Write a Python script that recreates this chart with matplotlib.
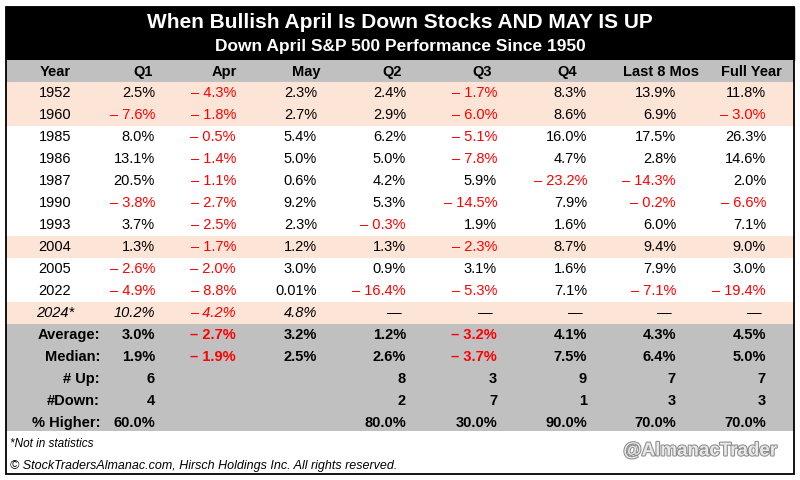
import matplotlib.pyplot as plt
import matplotlib.patheffects as pe
from matplotlib.patches import Rectangle

plt.rcParams['font.family'] = ['Liberation Sans', 'DejaVu Sans']

title = "When Bullish April Is Down Stocks AND MAY IS UP"
subtitle = "Down April S&P 500 Performance Since 1950"
columns = ["Year", "Q1", "Apr", "May", "Q2", "Q3", "Q4", "Last 8 Mos", "Full Year"]

years = ["1952", "1960", "1985", "1986", "1987", "1990", "1993", "2004", "2005", "2022", "2024*"]
q1 = [2.5, -7.6, 8.0, 13.1, 20.5, -3.8, 3.7, 1.3, -2.6, -4.9, 10.2]
apr = [-4.3, -1.8, -0.5, -1.4, -1.1, -2.7, -2.5, -1.7, -2.0, -8.8, -4.2]
may = [2.3, 2.7, 5.4, 5.0, 0.6, 9.2, 2.3, 1.2, 3.0, 0.01, 4.8]
q2 = [2.4, 2.9, 6.2, 5.0, 4.2, 5.3, -0.3, 1.3, 0.9, -16.4, None]
q3 = [-1.7, -6.0, -5.1, -7.8, 5.9, -14.5, 1.9, -2.3, 3.1, -5.3, None]
q4 = [8.3, 8.6, 16.0, 4.7, -23.2, 7.9, 1.6, 8.7, 1.6, 7.1, None]
last8 = [13.9, 6.9, 17.5, 2.8, -14.3, -0.2, 6.0, 9.4, 7.9, -7.1, None]
full_year = [11.8, -3.0, 26.3, 14.6, 2.0, -6.6, 7.1, 9.0, 3.0, -19.4, None]
highlight_years = ["1952", "1960", "2004", "2024*"]

stat_labels = ["Average:", "Median:", "# Up:", "#Down:", "% Higher:"]
average = [3.0, -2.7, 3.2, 1.2, -3.2, 4.1, 4.3, 4.5]
median = [1.9, -1.9, 2.5, 2.6, -3.7, 7.5, 6.4, 5.0]
num_up = [6, None, None, 8, 3, 9, 7, 7]
num_down = [4, None, None, 2, 7, 1, 3, 3]
pct_higher = [60.0, None, None, 80.0, 30.0, 90.0, 70.0, 70.0]

# layout in pixels
col_right = [155, 236, 317, 406, 497, 587, 676, 766]
head_x = [55, 143, 224, 306, 392, 482, 567, 661, 751]
row_h = 22
row0 = 93
red = "#FF0000"
peach = "#FCE4D6"
gray = "#C0C0C0"


def fmt(v):
    if abs(v) < 0.1:
        s = f"{abs(v):.2f}%"
    else:
        s = f"{abs(v):.1f}%"
    return ("\u2013 " + s) if v < 0 else s


fig = plt.figure(figsize=(8, 4.8), dpi=100)
ax = fig.add_axes([0, 0, 1, 1])
ax.set_xlim(0, 800)
ax.set_ylim(480, 0)
ax.axis("off")

L, R = 6, 794
ax.add_patch(Rectangle((L, 7), R - L, 53, color="black"))
ax.text(400, 22, title, color="white", fontsize=15, fontweight="bold", ha="center", va="center")
ax.text(400, 47, subtitle, color="white", fontsize=12.5, fontweight="bold", ha="center", va="center")

# header row
ax.add_patch(Rectangle((L, 60), R - L, row_h, color=gray, lw=0))
for x, c in zip(head_x, columns):
    ax.text(x, 72, c, fontsize=10.5, fontweight="bold", ha="center", va="center")

series = [q1, apr, may, q2, q3, q4, last8, full_year]
for i, yr in enumerate(years):
    yc = row0 + i * row_h
    if yr in highlight_years:
        ax.add_patch(Rectangle((L, yc - row_h / 2), R - L, row_h, color=peach, lw=0))
    style = "italic" if yr.endswith("*") else "normal"
    ax.text(head_x[0], yc, yr, fontsize=10.5, style=style, ha="center", va="center")
    for j, s in enumerate(series):
        v = s[i]
        if v is None:
            ax.text(col_right[j] - 4, yc, "\u2014", fontsize=10.5, ha="right", va="center")
        else:
            ax.text(col_right[j], yc, fmt(v), fontsize=10.5, style=style,
                    color=red if v < 0 else "black", ha="right", va="center")

# statistics block
stats = [average, median, num_up, num_down, pct_higher]
s0 = row0 + len(years) * row_h
ax.add_patch(Rectangle((L, s0 - row_h / 2), R - L, len(stats) * row_h - 3, color=gray, lw=0))
for k, (lab, vals) in enumerate(zip(stat_labels, stats)):
    yc = s0 + k * row_h
    ax.text(100, yc, lab, fontsize=10.5, fontweight="bold", ha="right", va="center")
    for j, v in enumerate(vals):
        if v is None:
            continue
        txt = str(v) if lab in ("# Up:", "#Down:") else fmt(v)
        ax.text(col_right[j], yc, txt, fontsize=10.5, fontweight="bold",
                color=red if v < 0 else "black", ha="right", va="center")

ax.text(10, 444, "*Not in statistics", fontsize=8.5, style="italic", ha="left", va="center")
ax.text(10, 466, "\u00a9 StockTradersAlmanac.com, Hirsch Holdings Inc. All rights reserved.",
        fontsize=9, style="italic", ha="left", va="center")
ax.text(700, 451, "@AlmanacTrader", fontsize=13.5, fontweight="bold", color="#e8e8e8",
        family=["Liberation Sans Narrow", "Liberation Sans"], ha="center", va="center",
        path_effects=[pe.withStroke(linewidth=1.5, foreground="#8c8c8c")])

ax.add_patch(Rectangle((L, 7), R - L, 467, fill=False, ec="black", lw=1.3))

fig.savefig("out.png", dpi=100)
